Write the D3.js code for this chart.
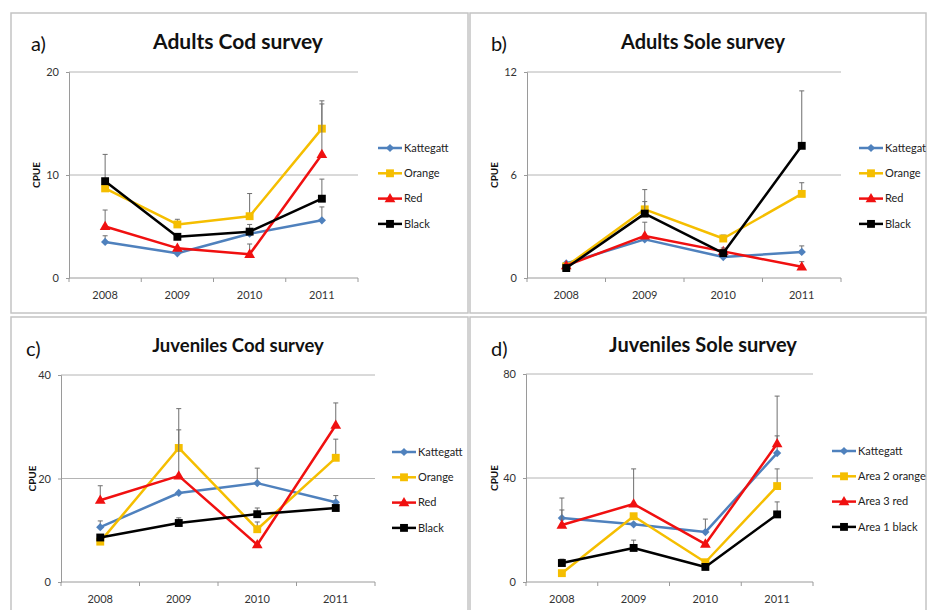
<!DOCTYPE html>
<html>
<head>
<meta charset="utf-8">
<script src="https://cdn.jsdelivr.net/npm/d3@7"></script>
<style>
  html, body { margin: 0; padding: 0; background: #fff; }
  svg { display: block; font-family: Lato, "Open Sans", sans-serif; }
</style>
</head>
<body>
<svg id="chart" width="927" height="610"></svg>
<script>
// Survey years (x categories)
const years = ["2008", "2009", "2010", "2011"];

// a) Adults Cod survey — mean CPUE and upper error
const adultCodKattegatt = [3.5, 2.4, 4.3, 5.6];
const adultCodKattegattErr = [0.6, 0, 0.5, 1.3];
const adultCodOrange = [8.7, 5.2, 6.0, 14.5];
const adultCodOrangeErr = [0, 0.5, 2.2, 2.7];
const adultCodRed = [5.0, 2.9, 2.3, 12.0];
const adultCodRedErr = [1.6, 0, 1.0, 4.9];
const adultCodBlack = [9.4, 4.0, 4.5, 7.7];
const adultCodBlackErr = [2.6, 0, 0.7, 1.9];
const adultCodTicks = [0, 10, 20];

// b) Adults Sole survey
const adultSoleKattegatt = [0.85, 2.25, 1.22, 1.52];
const adultSoleKattegattErr = [0, 0, 0, 0.35];
const adultSoleOrange = [0.68, 4.0, 2.3, 4.9];
const adultSoleOrangeErr = [0, 0.45, 0.2, 0.65];
const adultSoleRed = [0.72, 2.45, 1.55, 0.65];
const adultSoleRedErr = [0, 0.8, 0, 0.3];
const adultSoleBlack = [0.58, 3.75, 1.45, 7.7];
const adultSoleBlackErr = [0, 1.4, 0.3, 3.2];
const adultSoleTicks = [0, 6, 12];

// c) Juveniles Cod survey
const juvCodKattegatt = [10.6, 17.2, 19.1, 15.4];
const juvCodKattegattErr = [1.2, 0, 2.9, 1.3];
const juvCodOrange = [7.8, 25.9, 10.2, 24.0];
const juvCodOrangeErr = [0, 7.6, 1.4, 3.6];
const juvCodRed = [15.8, 20.5, 7.2, 30.3];
const juvCodRedErr = [2.8, 8.9, 0, 4.3];
const juvCodBlack = [8.6, 11.4, 13.1, 14.3];
const juvCodBlackErr = [0, 1.0, 1.2, 0];
const juvCodTicks = [0, 20, 40];

// d) Juveniles Sole survey
const juvSoleKattegatt = [24.6, 22.2, 19.2, 49.6];
const juvSoleKattegattErr = [3.1, 0, 5.0, 6.6];
const juvSoleOrange = [3.4, 25.3, 7.6, 36.9];
const juvSoleOrangeErr = [0, 0, 0, 6.6];
const juvSoleRed = [21.9, 30.0, 14.6, 53.2];
const juvSoleRedErr = [10.4, 13.5, 0, 18.3];
const juvSoleBlack = [7.3, 13.1, 5.8, 26.0];
const juvSoleBlackErr = [1.5, 3.0, 0, 4.8];
const juvSoleTicks = [0, 40, 80];

const codLegend = ["Kattegatt", "Orange", "Red", "Black"];
const soleAdultLegend = ["Kattegat", "Orange", "Red", "Black"];
const soleJuvLegend = ["Kattegatt", "Area 2 orange", "Area 3 red", "Area 1 black"];

const colors = ["#4F81BD", "#F5BE00", "#F01010", "#000000"];
const shapes = ["diamond", "square", "triangle", "square"];

const svg = d3.select("#chart");

const panels = [
  { box: [11, 13, 457, 300], letter: "a)", title: "Adults Cod survey", titleSize: 21,
    plot: { x0: 69, x1: 358, y0: 278, y1: 72 }, titleX: 238, titleY: 49, letterX: 31, letterY: 51,
    legendX: 378, legendY: 148, cpueX: 36,
    ticks: adultCodTicks, legend: codLegend,
    series: [adultCodKattegatt, adultCodOrange, adultCodRed, adultCodBlack],
    errors: [adultCodKattegattErr, adultCodOrangeErr, adultCodRedErr, adultCodBlackErr] },
  { box: [470, 13, 456, 300], letter: "b)", title: "Adults Sole survey", titleSize: 20,
    plot: { x0: 527, x1: 841, y0: 278, y1: 72 }, titleX: 703, titleY: 49, letterX: 491, letterY: 51,
    legendX: 859, legendY: 148, cpueX: 494,
    ticks: adultSoleTicks, legend: soleAdultLegend,
    series: [adultSoleKattegatt, adultSoleOrange, adultSoleRed, adultSoleBlack],
    errors: [adultSoleKattegattErr, adultSoleOrangeErr, adultSoleRedErr, adultSoleBlackErr] },
  { box: [11, 317, 457, 300], letter: "c)", title: "Juveniles Cod survey", titleSize: 18.5,
    plot: { x0: 61, x1: 375, y0: 582, y1: 375 }, titleX: 238, titleY: 352, letterX: 26, letterY: 356,
    legendX: 392, legendY: 452, cpueX: 32,
    ticks: juvCodTicks, legend: codLegend,
    series: [juvCodKattegatt, juvCodOrange, juvCodRed, juvCodBlack],
    errors: [juvCodKattegattErr, juvCodOrangeErr, juvCodRedErr, juvCodBlackErr] },
  { box: [470, 317, 456, 300], letter: "d)", title: "Juveniles Sole survey", titleSize: 20,
    plot: { x0: 526, x1: 813, y0: 582, y1: 374 }, titleX: 703, titleY: 352, letterX: 491, letterY: 356,
    legendX: 832, legendY: 451, cpueX: 494,
    ticks: juvSoleTicks, legend: soleJuvLegend,
    series: [juvSoleKattegatt, juvSoleOrange, juvSoleRed, juvSoleBlack],
    errors: [juvSoleKattegattErr, juvSoleOrangeErr, juvSoleRedErr, juvSoleBlackErr] }
];

function drawMarker(g, shape, color, x, y) {
  if (shape === "diamond") {
    g.append("path")
      .attr("d", d3.symbol(d3.symbolSquare, 34)())
      .attr("transform", `translate(${x},${y}) rotate(45)`)
      .attr("fill", color);
  } else if (shape === "square") {
    g.append("path")
      .attr("d", d3.symbol(d3.symbolSquare, 62)())
      .attr("transform", `translate(${x},${y})`)
      .attr("fill", color);
  } else {
    g.append("path")
      .attr("d", d3.symbol(d3.symbolTriangle, 50)())
      .attr("transform", `translate(${x},${y + 0.5})`)
      .attr("fill", color);
  }
}

panels.forEach(p => {
  const g = svg.append("g");

  // panel frame
  g.append("rect")
    .attr("x", p.box[0]).attr("y", p.box[1])
    .attr("width", p.box[2]).attr("height", p.box[3])
    .attr("fill", "#fff").attr("stroke", "#c4c4c4").attr("stroke-width", 1.5);

  const x = d3.scaleBand().domain(years).range([p.plot.x0, p.plot.x1]);
  const y = d3.scaleLinear().domain([p.ticks[0], p.ticks[p.ticks.length - 1]])
    .range([p.plot.y0, p.plot.y1]);

  // horizontal gridlines
  g.append("g").selectAll("line").data(p.ticks.slice(1)).join("line")
    .attr("x1", p.plot.x0).attr("x2", p.plot.x1)
    .attr("y1", d => y(d)).attr("y2", d => y(d))
    .attr("stroke", "#b4b4b4").attr("stroke-width", 1);

  // y axis
  const yAxis = g.append("g")
    .attr("transform", `translate(${p.plot.x0},0)`)
    .call(d3.axisLeft(y).tickValues(p.ticks).tickSize(3).tickPadding(7));
  yAxis.select(".domain").attr("stroke", "#9a9a9a");
  yAxis.selectAll(".tick line").attr("stroke", "#9a9a9a");
  yAxis.selectAll("text").attr("font-size", 11).attr("fill", "#333")
    .attr("font-family", "Lato, sans-serif");

  // x axis with ticks at category boundaries
  const xAxis = g.append("g")
    .attr("transform", `translate(0,${p.plot.y0})`)
    .call(d3.axisBottom(x).tickSize(0).tickPadding(13));
  xAxis.select(".domain").attr("stroke", "#9a9a9a").attr("d", `M${p.plot.x0},0H${p.plot.x1}`);
  xAxis.selectAll("text").attr("font-size", 11).attr("fill", "#333")
    .attr("font-family", "Lato, sans-serif");
  const bounds = years.map(d => x(d)).concat([x(years[years.length - 1]) + x.bandwidth()]);
  xAxis.append("g").selectAll("line").data(bounds).join("line")
    .attr("x1", d => d).attr("x2", d => d).attr("y1", 0).attr("y2", 4)
    .attr("stroke", "#9a9a9a");

  // y axis title
  g.append("text")
    .attr("transform", `translate(${p.cpueX},${(p.plot.y0 + p.plot.y1) / 2}) rotate(-90)`)
    .attr("text-anchor", "middle").attr("dy", "0.35em")
    .attr("font-size", 10).attr("font-weight", "bold").attr("fill", "#111")
    .text("CPUE");

  // chart title and panel letter
  g.append("text")
    .attr("x", p.titleX).attr("y", p.titleY)
    .attr("text-anchor", "middle").attr("font-size", p.titleSize).attr("font-weight", "bold")
    .attr("fill", "#111")
    .text(p.title);
  g.append("text")
    .attr("x", p.letterX).attr("y", p.letterY)
    .attr("font-size", 20).attr("fill", "#111")
    .text(p.letter);

  const cx = d => x(d) + x.bandwidth() / 2;

  // series: error bars, lines, markers
  p.series.forEach((vals, si) => {
    const errs = p.errors[si];
    const eg = g.append("g");
    vals.forEach((v, i) => {
      if (errs[i] > 0) {
        const xx = cx(years[i]);
        eg.append("line").attr("x1", xx).attr("x2", xx)
          .attr("y1", y(v)).attr("y2", y(v + errs[i]))
          .attr("stroke", "#6e6e6e").attr("stroke-width", 1);
        eg.append("line").attr("x1", xx - 2.5).attr("x2", xx + 2.5)
          .attr("y1", y(v + errs[i])).attr("y2", y(v + errs[i]))
          .attr("stroke", "#6e6e6e").attr("stroke-width", 1);
      }
    });
    const line = d3.line().x((d, i) => cx(years[i])).y(d => y(d));
    g.append("path").datum(vals)
      .attr("d", line).attr("fill", "none")
      .attr("stroke", colors[si]).attr("stroke-width", 2.5)
      .attr("stroke-linejoin", "round");
    const mg = g.append("g");
    vals.forEach((v, i) => drawMarker(mg, shapes[si], colors[si], cx(years[i]), y(v)));
  });

  // legend
  p.legend.forEach((name, i) => {
    const ly = p.legendY + i * 25.3;
    g.append("line")
      .attr("x1", p.legendX).attr("x2", p.legendX + 24)
      .attr("y1", ly).attr("y2", ly)
      .attr("stroke", colors[i]).attr("stroke-width", 2.5);
    drawMarker(g, shapes[i], colors[i], p.legendX + 12, ly);
    g.append("text")
      .attr("x", p.legendX + 26).attr("y", ly).attr("dy", "0.35em")
      .attr("font-size", 11).attr("fill", "#222")
      .text(name);
  });
});
</script>
</body>
</html>
